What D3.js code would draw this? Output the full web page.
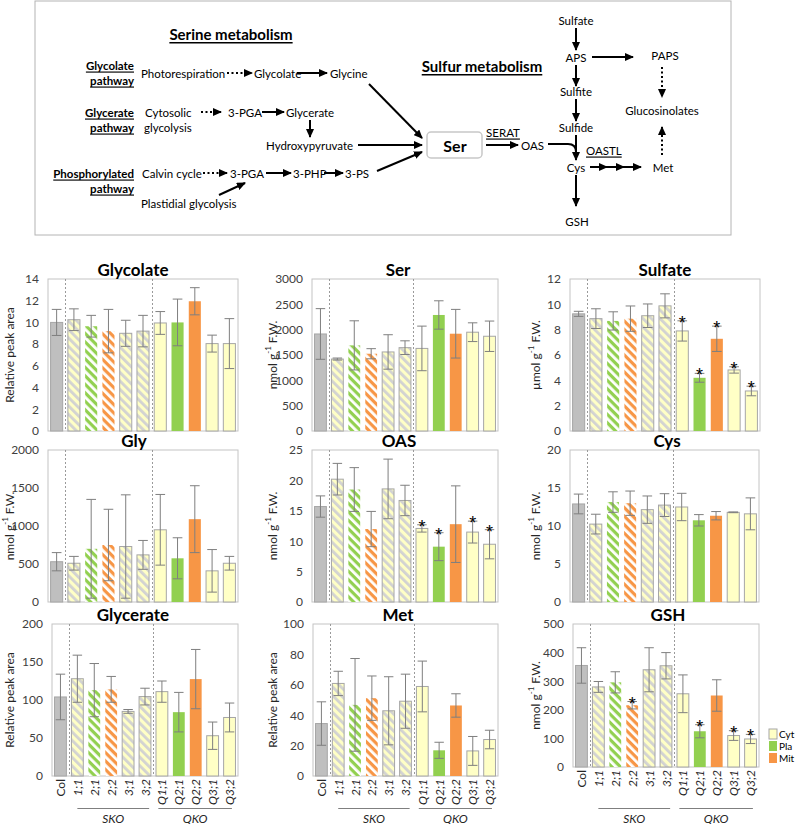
<!DOCTYPE html>
<html>
<head>
<meta charset="utf-8">
<script src="https://cdn.jsdelivr.net/npm/d3@7"></script>
<style>
body { margin: 0; background: #fff; }
svg { display: block; font-family: Lato, "Open Sans", sans-serif; }
</style>
</head>
<body>
<script>

// genotypes on the x axis, their compartment and whether single knockouts (hatched)
const genotypes = ["Col", "1;1", "2;1", "2;2", "3;1", "3;2", "Q1;1", "Q2;1", "Q2;2", "Q3;1", "Q3;2"];
const compartments = ["col", "cyt", "pla", "mit", "cyt", "cyt", "cyt", "pla", "mit", "cyt", "cyt"];
const hatched = [false, true, true, true, true, true, false, false, false, false, false];

// means and error per metabolite
const glycolateMean = [10.0, 10.25, 9.65, 9.2, 9.0, 9.2, 9.95, 10.0, 11.95, 8.05, 8.05];
const glycolateErr  = [1.2, 1.0, 1.0, 2.0, 1.2, 1.45, 1.05, 2.15, 1.25, 0.78, 2.3];
const glycolateSig  = [];

const serMean = [1915, 1420, 1690, 1525, 1560, 1645, 1630, 2290, 1920, 1950, 1870];
const serErr  = [500, 20, 485, 100, 340, 135, 440, 280, 480, 185, 300];
const serSig  = [];

const sulfateMean = [9.25, 8.87, 8.69, 8.87, 9.1, 9.88, 7.9, 4.2, 7.28, 4.82, 3.16];
const sulfateErr  = [0.2, 0.78, 0.72, 1.0, 0.93, 0.95, 0.8, 0.35, 1.0, 0.25, 0.38];
const sulfateSig  = ["Q1;1", "Q2;1", "Q2;2", "Q3;1", "Q3;2"];

const glyMean = [530, 510, 700, 750, 730, 620, 950, 575, 1090, 410, 510];
const glyErr  = [120, 90, 650, 470, 680, 190, 465, 270, 440, 280, 90];
const glySig  = [];

const oasMean = [15.7, 20.2, 18.5, 12.0, 18.6, 16.7, 12.1, 9.1, 12.8, 11.5, 9.5];
const oasErr  = [1.75, 2.6, 3.6, 2.9, 4.9, 2.5, 0.6, 2.3, 6.3, 1.8, 2.4];
const oasSig  = ["Q1;1", "Q2;1", "Q3;1", "Q3;2"];

const cysMean = [12.9, 10.25, 13.15, 13.0, 12.15, 12.75, 12.5, 10.75, 11.35, 11.8, 11.6];
const cysErr  = [1.3, 1.3, 1.35, 1.6, 1.8, 1.5, 1.8, 0.75, 0.55, 0.05, 2.1];
const cysSig  = [];

const glycerateMean = [104, 128, 113, 114, 85, 104.5, 111, 84, 127.5, 53, 77];
const glycerateErr  = [30, 31, 35, 17, 2.5, 11, 14, 26, 39, 18, 19];
const glycerateSig  = [];

const metMean = [34.5, 60.9, 46.8, 51.2, 42.9, 49.2, 58.9, 16.9, 46.4, 16.5, 24];
const metErr  = [14.3, 8, 30.5, 14.6, 22.4, 17.8, 16.7, 5.3, 7.7, 9.5, 6.1];
const metSig  = [];

const gshMean = [355, 280, 296, 216, 340, 354, 256, 125, 250, 110, 98];
const gshErr  = [62, 19, 37, 13, 77, 46, 66, 23, 55, 17, 16];
const gshSig  = ["2;2", "Q2;1", "Q3;1", "Q3;2"];

const legendLabels = ["Cyt", "Pla", "Mit"];

const fills = {col: "#bfbfbf", cyt: "#ffffc6", pla: "#92d050", mit: "#f79646"};
const stripes = {cyt: "#d2d2d2", pla: "#ffffff", mit: "#ffffff"};

const W = 800, H = 824;
const svg = d3.select("body").append("svg").attr("width", W).attr("height", H);
const defs = svg.append("defs");

// hatch patterns for the single knockouts
Object.keys(stripes).forEach(function(k) {
    const p = defs.append("pattern")
        .attr("id", "hatch-" + k)
        .attr("patternUnits", "userSpaceOnUse")
        .attr("width", 6).attr("height", 6)
        .attr("patternTransform", "rotate(-45)");
    p.append("rect").attr("width", 6).attr("height", 6).attr("fill", fills[k]);
    p.append("rect").attr("width", 2.8).attr("height", 6).attr("fill", stripes[k]);
});

// arrow head
defs.append("marker")
    .attr("id", "ah")
    .attr("markerUnits", "userSpaceOnUse")
    .attr("markerWidth", 9).attr("markerHeight", 8)
    .attr("refX", 8).attr("refY", 4)
    .attr("orient", "auto")
    .append("path").attr("d", "M0,0 L9,4 L0,8 Z").attr("fill", "#000");

/* ---------------- pathway diagram ---------------- */

const diag = svg.append("g");
diag.append("rect")
    .attr("x", 35).attr("y", 1).attr("width", 696).attr("height", 234)
    .attr("fill", "none").attr("stroke", "#b4b4b4");

function label(x, y, s, opt) {
    opt = opt || {};
    return diag.append("text")
        .attr("x", x).attr("y", y)
        .attr("dominant-baseline", "central")
        .attr("text-anchor", opt.anchor || "start")
        .style("font-size", (opt.size || 11.5) + "px")
        .style("font-weight", opt.bold ? "bold" : "normal")
        .style("text-decoration", opt.under ? "underline" : "none")
        .text(s);
}

function arrow(pts, dotted, mid) {
    const line = diag.append("path")
        .attr("d", d3.line()(pts))
        .attr("fill", "none")
        .attr("stroke", "#000")
        .attr("stroke-width", 2)
        .attr("marker-end", "url(#ah)");
    if (dotted) line.attr("stroke-dasharray", "2,2.5");
    if (mid) line.attr("marker-mid", "url(#ah)");
    return line;
}

label(231, 34, "Serine metabolism", {anchor: "middle", size: 15, bold: true, under: true});
label(482, 66, "Sulfur metabolism", {anchor: "middle", size: 15, bold: true, under: true});

// glycolate pathway
label(134, 65, "Glycolate", {anchor: "end", bold: true, under: true});
label(134, 80, "pathway", {anchor: "end", bold: true, under: true});
label(141, 73, "Photorespiration");
arrow([[227, 73], [252, 73]], true);
label(254, 73, "Glycolate");
arrow([[297, 73], [327, 73]]);
label(330, 73, "Glycine");
arrow([[369, 84], [422, 138]]);

// glycerate pathway
label(134, 112, "Glycerate", {anchor: "end", bold: true, under: true});
label(134, 127, "pathway", {anchor: "end", bold: true, under: true});
label(145, 112, "Cytosolic");
label(144, 127, "glycolysis");
arrow([[201, 112], [221, 112]], true);
label(228, 112, "3-PGA");
arrow([[262, 112], [284, 112]]);
label(286, 112, "Glycerate");
arrow([[310, 120], [310, 137]]);
label(266, 145, "Hydroxypyruvate");
arrow([[358, 145], [422, 145]]);

// phosphorylated pathway
label(134, 173, "Phosphorylated", {anchor: "end", bold: true, under: true});
label(134, 188, "pathway", {anchor: "end", bold: true, under: true});
label(142, 173, "Calvin cycle");
arrow([[203, 173], [227, 173]], true);
label(230, 173, "3-PGA");
arrow([[266, 173], [291, 173]]);
label(293, 173, "3-PHP");
arrow([[324, 173], [343, 173]]);
label(345, 173, "3-PS");
arrow([[377, 171], [422, 152]]);
label(141, 203, "Plastidial glycolysis");
arrow([[219, 195], [245, 183]]);

// serine and sulfur assimilation
diag.append("rect")
    .attr("x", 427).attr("y", 132).attr("width", 55).attr("height", 26).attr("rx", 4)
    .attr("fill", "#fff").attr("stroke", "#c8c8c8").attr("stroke-width", 1.5);
label(455, 145, "Ser", {anchor: "middle", size: 16, bold: true});
arrow([[486, 145], [518, 145]]);
label(503, 132, "SERAT", {anchor: "middle", under: true});
label(521, 145, "OAS");
diag.append("path")
    .attr("d", "M548,144 L568,144 Q576,144 576,152 L576,160")
    .attr("fill", "none").attr("stroke", "#000").attr("stroke-width", 2)
    .attr("marker-end", "url(#ah)");
label(586, 150, "OASTL", {under: true});

label(576, 20, "Sulfate", {anchor: "middle"});
arrow([[576, 28], [576, 50]]);
label(576, 57, "APS", {anchor: "middle"});
arrow([[576, 65], [576, 86]]);
label(576, 91, "Sulfite", {anchor: "middle"});
arrow([[576, 99], [576, 121]]);
label(576, 127, "Sulfide", {anchor: "middle"});
diag.append("line")
    .attr("x1", 576).attr("y1", 135).attr("x2", 576).attr("y2", 153)
    .attr("stroke", "#000").attr("stroke-width", 2);
label(576, 167, "Cys", {anchor: "middle"});
arrow([[576, 175], [576, 206]]);
label(577, 221, "GSH", {anchor: "middle"});

arrow([[592, 57], [633, 57]]);
label(665, 55, "PAPS", {anchor: "middle"});
arrow([[662, 67], [662, 97]], true);
label(662, 110, "Glucosinolates", {anchor: "middle"});
arrow([[662, 155], [662, 127]], true);
label(663, 167, "Met", {anchor: "middle"});
arrow([[590, 167], [607, 167], [624, 167], [641, 167]], false, true);

/* ---------------- bar chart panels ---------------- */

const relUnit = ["Relative peak area"];
const panels = [
    {title: "Glycolate", mean: glycolateMean, err: glycolateErr, sig: glycolateSig, yMax: 14, step: 2, unit: "rel", box: [48, 238, 279, 431], tx: 133, ux: 9},
    {title: "Ser", mean: serMean, err: serErr, sig: serSig, yMax: 3000, step: 500, unit: "nmol", box: [312, 498, 279, 431], tx: 398, ux: 272},
    {title: "Sulfate", mean: sulfateMean, err: sulfateErr, sig: sulfateSig, yMax: 12, step: 2, unit: "µmol", box: [570, 760, 279, 431], tx: 665, ux: 535},
    {title: "Gly", mean: glyMean, err: glyErr, sig: glySig, yMax: 2000, step: 500, unit: "nmol", box: [48, 238, 450, 602], tx: 134, ux: 9},
    {title: "OAS", mean: oasMean, err: oasErr, sig: oasSig, yMax: 25, step: 5, unit: "nmol", box: [312, 498, 450, 602], tx: 399, ux: 272},
    {title: "Cys", mean: cysMean, err: cysErr, sig: cysSig, yMax: 20, step: 5, unit: "nmol", box: [570, 759, 450, 602], tx: 667, ux: 535},
    {title: "Glycerate", mean: glycerateMean, err: glycerateErr, sig: glycerateSig, yMax: 200, step: 50, unit: "rel", box: [52, 238, 624, 776], tx: 133, ux: 9, xLabels: true},
    {title: "Met", mean: metMean, err: metErr, sig: metSig, yMax: 100, step: 20, unit: "rel", box: [313, 498, 624, 776], tx: 398, ux: 272, xLabels: true},
    {title: "GSH", mean: gshMean, err: gshErr, sig: gshSig, yMax: 500, step: 100, unit: "nmol", box: [573, 759, 624, 767], tx: 668, ux: 535, xLabels: true}
];

panels.forEach(drawPanel);

/** Draws one metabolite bar chart. */
function drawPanel(p) {
    const [left, right, top, bottom] = p.box;
    const g = svg.append("g");

    const x = d3.scaleBand().domain(genotypes).range([left, right])
        .paddingInner(0.3).paddingOuter(0.15);
    const y = d3.scaleLinear().domain([0, p.yMax]).range([bottom, top]);
    const bw = x.bandwidth();

    // plot area frame
    g.append("rect")
        .attr("x", left).attr("y", top)
        .attr("width", right - left).attr("height", bottom - top)
        .attr("fill", "none").attr("stroke", "#c4c4c4");

    // dotted separators between Col, SKO and QKO
    ["1;1", "Q1;1"].forEach(function(k) {
        const sx = Math.round(x(k) - x.step() * 0.15) + 0.5;
        g.append("line")
            .attr("x1", sx).attr("x2", sx).attr("y1", top).attr("y2", bottom)
            .attr("stroke", "#9a9a9a").attr("stroke-dasharray", "2,2");
    });

    // y axis
    const yAxis = g.append("g")
        .attr("transform", "translate(" + (left - 3) + ",0)")
        .call(d3.axisLeft(y).tickValues(d3.range(0, p.yMax + p.step / 2, p.step))
              .tickFormat(d3.format("d"))
              .tickSize(0).tickPadding(6));
    yAxis.select(".domain").remove();
    yAxis.selectAll("text")
        .style("font-family", "Lato, sans-serif")
        .style("font-size", "12px")
        .attr("fill", "#404040");

    // title
    g.append("text")
        .attr("x", p.tx).attr("y", top - 3)
        .attr("text-anchor", "middle")
        .style("font-size", "17px").style("font-weight", "bold")
        .text(p.title);

    // y axis title
    const ut = g.append("text")
        .attr("transform", "translate(" + p.ux + "," + ((top + bottom) / 2) + ") rotate(-90)")
        .attr("text-anchor", "middle")
        .attr("dominant-baseline", "central")
        .style("font-size", "12px")
        .attr("fill", "#262626");
    if (p.unit == "rel") {
        ut.text(relUnit[0]);
    }
    else {
        ut.append("tspan").text(p.unit + " g");
        ut.append("tspan").attr("dy", -4).style("font-size", "8px").text("-1");
        ut.append("tspan").attr("dy", 4).text(" F.W.");
    }

    // bars
    g.selectAll(".bar")
        .data(genotypes)
        .enter().append("rect")
        .attr("x", function(d) { return x(d); })
        .attr("y", function(d, i) { return y(p.mean[i]); })
        .attr("width", bw)
        .attr("height", function(d, i) { return bottom - y(p.mean[i]); })
        .attr("fill", function(d, i) {
            const c = compartments[i];
            return hatched[i] ? "url(#hatch-" + c + ")" : fills[c];
        })
        .attr("stroke", function(d, i) {
            const c = compartments[i];
            if (c == "col" || c == "cyt") return "#a6a6a6";
            return "none";
        });

    // error bars and significance stars
    const cap = bw * 0.4;
    genotypes.forEach(function(d, i) {
        const cx = x(d) + bw / 2;
        const hi = y(p.mean[i] + p.err[i]);
        const lo = y(Math.max(0, p.mean[i] - p.err[i]));
        const eg = g.append("g").attr("stroke", "#7f7f7f").attr("stroke-width", 1);
        eg.append("line").attr("x1", cx).attr("x2", cx).attr("y1", hi).attr("y2", lo);
        eg.append("line").attr("x1", cx - cap).attr("x2", cx + cap).attr("y1", hi).attr("y2", hi);
        eg.append("line").attr("x1", cx - cap).attr("x2", cx + cap).attr("y1", lo).attr("y2", lo);

        if (p.sig.indexOf(d) >= 0) {
            g.append("text")
                .attr("x", cx).attr("y", hi + 8)
                .attr("text-anchor", "middle")
                .style("font-family", "'Liberation Sans', sans-serif")
                .style("font-size", "18px")
                .attr("fill", "#000")
                .text("*");
        }
    });

    if (!p.xLabels) return;

    // genotype labels
    genotypes.forEach(function(d) {
        g.append("text")
            .attr("transform", "translate(" + (x(d) + bw / 2) + "," + (bottom + 3) + ") rotate(-90)")
            .attr("text-anchor", "end")
            .attr("dominant-baseline", "central")
            .style("font-size", "12px")
            .style("font-style", d == "Col" ? "normal" : "italic")
            .attr("fill", "#262626")
            .text(d);
    });

    // SKO / QKO group lines
    const groups = [
        {name: "SKO", x1: x("1;1") + bw * 0.5, x2: x("3;2") + bw * 0.85},
        {name: "QKO", x1: x("Q1;1") + bw * 0.2, x2: x("Q3;2") + bw * 0.7}
    ];
    groups.forEach(function(gr) {
        g.append("line")
            .attr("x1", gr.x1).attr("x2", gr.x2).attr("y1", 808.5).attr("y2", 808.5)
            .attr("stroke", "#7f7f7f");
        g.append("text")
            .attr("x", (gr.x1 + gr.x2) / 2).attr("y", 818)
            .attr("text-anchor", "middle")
            .attr("dominant-baseline", "central")
            .style("font-size", "12px").style("font-style", "italic")
            .attr("fill", "#262626")
            .text(gr.name);
    });
}

// legend
const legend = svg.append("g");
legendLabels.forEach(function(l, i) {
    const ly = 729 + i * 12;
    legend.append("rect")
        .attr("x", 769).attr("y", ly).attr("width", 8).attr("height", 10)
        .attr("fill", fills[l.toLowerCase()])
        .attr("stroke", l == "Cyt" ? "#a6a6a6" : "none");
    legend.append("text")
        .attr("x", 779).attr("y", ly + 5)
        .attr("dominant-baseline", "central")
        .style("font-size", "10px")
        .text(l);
});

</script>
</body>
</html>
